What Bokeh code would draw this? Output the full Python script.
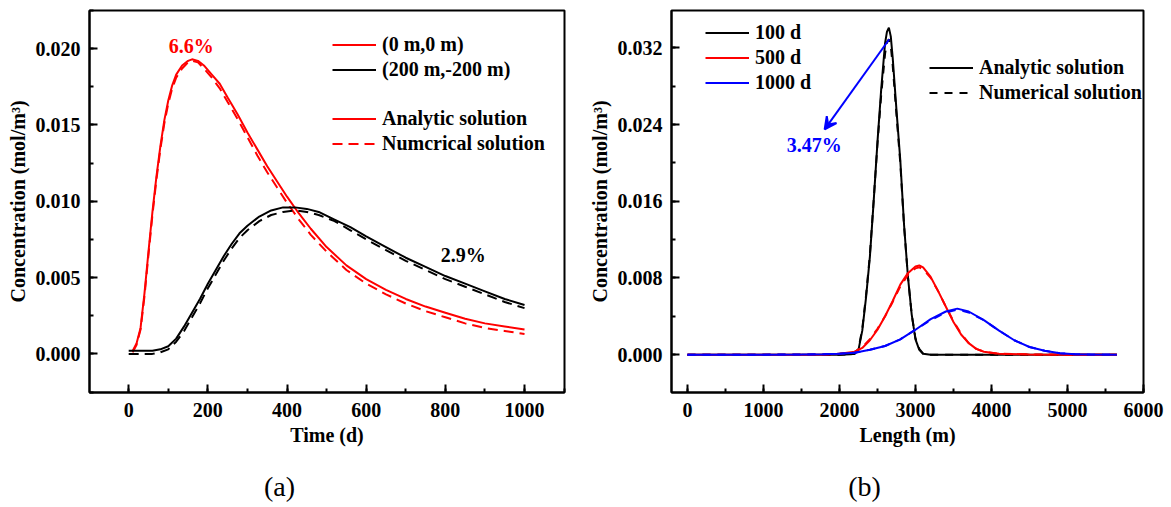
from bokeh.plotting import figure
from bokeh.layouts import row, column
from bokeh.models import (Legend, LegendItem, Label, Arrow, VeeHead,
                          SingleIntervalTicker, NumeralTickFormatter)
from bokeh.embed import file_html
from bokeh.resources import INLINE

FONT = "Liberation Serif"

# ---------------- Panel (a) data: concentration vs time ----------------
t_red = [10, 20, 30, 40, 50, 60, 70, 80, 90, 100, 110, 120, 135, 150, 160, 175, 190,
         210, 230, 250, 275, 300, 325, 350, 375, 400, 430, 460, 500, 550, 600, 650,
         700, 750, 800, 850, 900, 950, 1000]
c_red_analytic = [0.0002, 0.0007, 0.0017, 0.0040, 0.0067, 0.0093, 0.0116, 0.0136, 0.0153,
                  0.0166, 0.0176, 0.0183, 0.0189, 0.0192, 0.0193, 0.0192, 0.0189, 0.0183,
                  0.0177, 0.0168, 0.0157, 0.0145, 0.0134, 0.0123, 0.0113, 0.0103, 0.0092,
                  0.0082, 0.0070, 0.0058, 0.0049, 0.0042, 0.0036, 0.0031, 0.0027, 0.0023,
                  0.0020, 0.0018, 0.0016]
c_red_numerical = [0.0001, 0.0006, 0.0016, 0.0038, 0.0065, 0.0091, 0.0114, 0.0134, 0.0151,
                   0.0164, 0.0174, 0.0181, 0.0187, 0.0191, 0.0192, 0.0191, 0.0187, 0.0181,
                   0.0174, 0.0165, 0.0154, 0.0142, 0.0130, 0.0119, 0.0109, 0.0099, 0.0088,
                   0.0078, 0.0067, 0.0055, 0.0046, 0.0039, 0.0033, 0.0028, 0.0024, 0.0020,
                   0.0017, 0.0015, 0.0013]

t_black = [0, 20, 40, 60, 80, 100, 120, 140, 160, 180, 200, 220, 240, 260, 280, 300, 330,
           360, 390, 420, 450, 480, 520, 560, 600, 650, 700, 750, 800, 850, 900, 950, 1000]
c_black_analytic = [0.0002, 0.0002, 0.0002, 0.0002, 0.0003, 0.0005, 0.0010, 0.0018, 0.0027,
                    0.0036, 0.0046, 0.0055, 0.0064, 0.0072, 0.0079, 0.0084, 0.0090, 0.0094,
                    0.0096, 0.0096, 0.0095, 0.0093, 0.0088, 0.0083, 0.0077, 0.0070, 0.0063,
                    0.0057, 0.0051, 0.0046, 0.0041, 0.0036, 0.0032]
c_black_numerical = [0.0000, 0.0000, 0.0000, 0.0000, 0.0001, 0.0003, 0.0008, 0.0015, 0.0024,
                     0.0033, 0.0043, 0.0052, 0.0061, 0.0069, 0.0076, 0.0081, 0.0087, 0.0091,
                     0.0093, 0.0094, 0.0093, 0.0091, 0.0087, 0.0081, 0.0075, 0.0068, 0.0061,
                     0.0055, 0.0049, 0.0044, 0.0039, 0.0034, 0.0030]

# ---------------- Panel (b) data: concentration vs length ----------------
L_100 = [0, 1000, 2000, 2150, 2200, 2250, 2300, 2350, 2400, 2450, 2500, 2550, 2600, 2625,
         2650, 2675, 2700, 2750, 2800, 2850, 2900, 2950, 3000, 3050, 3100, 3200, 4000, 5000, 5650]
c_100_analytic = [0, 0, 0, 0.00005, 0.0001, 0.0005, 0.0025, 0.0060, 0.0102, 0.0160, 0.0222,
                  0.0278, 0.0325, 0.0337, 0.0341, 0.0332, 0.0310, 0.0255, 0.0203, 0.0135,
                  0.0082, 0.0042, 0.0016, 0.0005, 0.0001, 0, 0, 0, 0]
c_100_numerical = [0, 0, 0, 0.00005, 0.0001, 0.0006, 0.0027, 0.0062, 0.0104, 0.0161, 0.0220,
                   0.0272, 0.0314, 0.0326, 0.0329, 0.0322, 0.0302, 0.0250, 0.0200, 0.0134,
                   0.0082, 0.0042, 0.0017, 0.0006, 0.0001, 0, 0, 0, 0]

L_500 = [0, 1000, 1500, 1800, 2000, 2200, 2300, 2400, 2500, 2600, 2700, 2800, 2900, 3000,
         3050, 3100, 3200, 3300, 3400, 3500, 3600, 3700, 3800, 3900, 4100, 4500, 5000, 5650]
c_500_analytic = [0, 0, 0, 0.00002, 0.0001, 0.0003, 0.0007, 0.0015, 0.0026, 0.0040, 0.0056,
                  0.0073, 0.0085, 0.0092, 0.0093, 0.0091, 0.0081, 0.0066, 0.0050, 0.0034,
                  0.0021, 0.0012, 0.0006, 0.0003, 0.0001, 0.00002, 0, 0]
c_500_numerical = [0, 0, 0, 0.00002, 0.0001, 0.0003, 0.0008, 0.0016, 0.0027, 0.0040, 0.0055,
                   0.0071, 0.0083, 0.0090, 0.0091, 0.0089, 0.0080, 0.0066, 0.0050, 0.0035,
                   0.0022, 0.0012, 0.0006, 0.0003, 0.0001, 0.00002, 0, 0]

L_1000 = [0, 1000, 1500, 1800, 2000, 2200, 2400, 2600, 2800, 3000, 3200, 3400, 3550, 3700,
          3900, 4100, 4300, 4500, 4700, 4900, 5100, 5300, 5650]
c_1000_analytic = [0, 0, 0.00001, 0.00005, 0.0001, 0.0002, 0.0005, 0.0009, 0.0016, 0.0026,
                   0.0037, 0.0045, 0.0048, 0.0045, 0.0036, 0.0025, 0.0015, 0.0008, 0.0004,
                   0.00015, 0.00005, 0.00001, 0]
c_1000_numerical = [0, 0, 0.00001, 0.00005, 0.0001, 0.0002, 0.0005, 0.0009, 0.0016, 0.0026,
                    0.0036, 0.0044, 0.0047, 0.0044, 0.0036, 0.0025, 0.0015, 0.0008, 0.0004,
                    0.00015, 0.00005, 0.00001, 0]

# annotations
ann_a = [("6.6%", 158, 0.0202, "red"), ("2.9%", 845, 0.0065, "black")]
arrow_b = dict(x_start=2655, y_start=0.0329, x_end=1805, y_end=0.0235)
ann_b = ("3.47%", 1669, 0.0219, "blue")
panel_names = ["(a)", "(b)"]


def style(p, xint, yint, xfmt, yfmt, xlabel, ylabel):
    p.xaxis.ticker = SingleIntervalTicker(interval=xint, num_minor_ticks=2)
    p.yaxis.ticker = SingleIntervalTicker(interval=yint, num_minor_ticks=2)
    p.xaxis.formatter = NumeralTickFormatter(format=xfmt)
    p.yaxis.formatter = NumeralTickFormatter(format=yfmt)
    p.xaxis.axis_label = xlabel
    p.yaxis.axis_label = ylabel
    for ax in (p.xaxis[0], p.yaxis[0]):
        ax.axis_line_width = 2
        ax.axis_line_color = "black"
        ax.major_tick_in = 8
        ax.major_tick_out = 0
        ax.minor_tick_in = 4
        ax.minor_tick_out = 0
        ax.major_tick_line_width = 2
        ax.minor_tick_line_width = 2
        ax.major_tick_line_color = "black"
        ax.minor_tick_line_color = "black"
        ax.major_label_text_font = FONT
        ax.major_label_text_font_style = "bold"
        ax.major_label_text_font_size = "20px"
        ax.major_label_text_color = "black"
        ax.axis_label_text_font = FONT
        ax.axis_label_text_font_style = "bold"
        ax.axis_label_text_font_size = "20px"
        ax.axis_label_text_color = "black"
    p.xaxis.major_label_standoff = 10
    p.yaxis.major_label_standoff = 9
    p.xaxis.axis_label_standoff = 4
    p.yaxis.axis_label_standoff = 4
    p.grid.visible = False
    p.outline_line_color = "black"
    p.outline_line_width = 2
    p.background_fill_color = "white"
    p.border_fill_color = "white"


def make_legend(items, loc, height):
    lg = Legend(items=items, location=loc, orientation="vertical",
                label_text_font=FONT, label_text_font_style="bold",
                label_text_font_size="20px", label_text_color="black",
                glyph_width=44, glyph_height=height, label_height=height,
                label_standoff=6, spacing=0, padding=0, margin=0,
                border_line_alpha=0, background_fill_alpha=0)
    return lg


def caption_strip(width, text, cx):
    # a small, axis-less strip that carries the panel caption below each chart
    s = figure(width=width, height=47, x_range=(0, width), y_range=(0, 47),
               x_axis_type=None, y_axis_type=None, min_border=0,
               output_backend="svg", toolbar_location=None)
    s.outline_line_color = None
    s.grid.visible = False
    s.add_layout(Label(x=cx, y=21, text=text, text_align="center", text_baseline="middle",
                       text_color="black", text_font=FONT, text_font_style="normal",
                       text_font_size="28px"))
    return s


# ---------------- Panel (a) ----------------
p1 = figure(width=585, height=460, x_range=(-99, 1101), y_range=(-0.00253, 0.0225),
            min_border_left=89, min_border_right=21, min_border_top=9, min_border_bottom=68,
            output_backend="svg", toolbar_location=None)
style(p1, 200, 0.005, "0", "0.000", "Time (d)", "Concentration (mol/m³)")

r_ra = p1.line(t_red, c_red_analytic, line_color="red", line_width=2)
r_rn = p1.line(t_red, c_red_numerical, line_color="red", line_width=2, line_dash="10 6")
r_ba = p1.line(t_black, c_black_analytic, line_color="black", line_width=2)
r_bn = p1.line(t_black, c_black_numerical, line_color="black", line_width=2, line_dash="10 6")

for txt, x, y, col in ann_a:
    p1.add_layout(Label(x=x, y=y, text=txt, text_align="center", text_baseline="middle",
                        text_color=col, text_font=FONT, text_font_style="bold",
                        text_font_size="20px"))

p1.add_layout(make_legend([LegendItem(label="(0 m,0 m)", renderers=[r_ra]),
                           LegendItem(label="(200 m,-200 m)", renderers=[r_ba])],
                          (243, 310), 25), "center")
p1.add_layout(make_legend([LegendItem(label="Analytic solution", renderers=[r_ra]),
                           LegendItem(label="Numcrical solution", renderers=[r_rn])],
                          (243, 236), 25), "center")

# ---------------- Panel (b) ----------------
p2 = figure(width=586, height=460, x_range=(-210, 6000), y_range=(-0.00395, 0.0359),
            min_border_left=80, min_border_right=28, min_border_top=10, min_border_bottom=66,
            output_backend="svg", toolbar_location=None)
style(p2, 1000, 0.008, "0", "0.000", "Length (m)", "Concentration (mol/m³)")

r1a = p2.line(L_100, c_100_analytic, line_color="black", line_width=2)
r1n = p2.line(L_100, c_100_numerical, line_color="black", line_width=2, line_dash="8 7")
r5a = p2.line(L_500, c_500_analytic, line_color="red", line_width=2)
r5n = p2.line(L_500, c_500_numerical, line_color="red", line_width=2, line_dash="8 7")
r10a = p2.line(L_1000, c_1000_analytic, line_color="blue", line_width=2)
r10n = p2.line(L_1000, c_1000_numerical, line_color="blue", line_width=2, line_dash="8 7")

p2.add_layout(Arrow(end=VeeHead(size=12, line_color="blue", fill_color="blue", line_width=2),
                    line_color="blue", line_width=2, **arrow_b))
txt, x, y, col = ann_b
p2.add_layout(Label(x=x, y=y, text=txt, text_align="center", text_baseline="middle",
                    text_color=col, text_font=FONT, text_font_style="bold",
                    text_font_size="20px"))

p2.add_layout(make_legend([LegendItem(label="100 d", renderers=[r1a]),
                           LegendItem(label="500 d", renderers=[r5a]),
                           LegendItem(label="1000 d", renderers=[r10a])],
                          (34, 297), 25), "center")
p2.add_layout(make_legend([LegendItem(label="Analytic solution", renderers=[r1a]),
                           LegendItem(label="Numerical solution", renderers=[r1n])],
                          (258, 287), 25), "center")

s1 = caption_strip(585, panel_names[0], 279)
s2 = caption_strip(586, panel_names[1], 279)

layout = column(row(p1, p2), row(s1, s2))
open("out.html", "w").write(file_html(layout, INLINE))
